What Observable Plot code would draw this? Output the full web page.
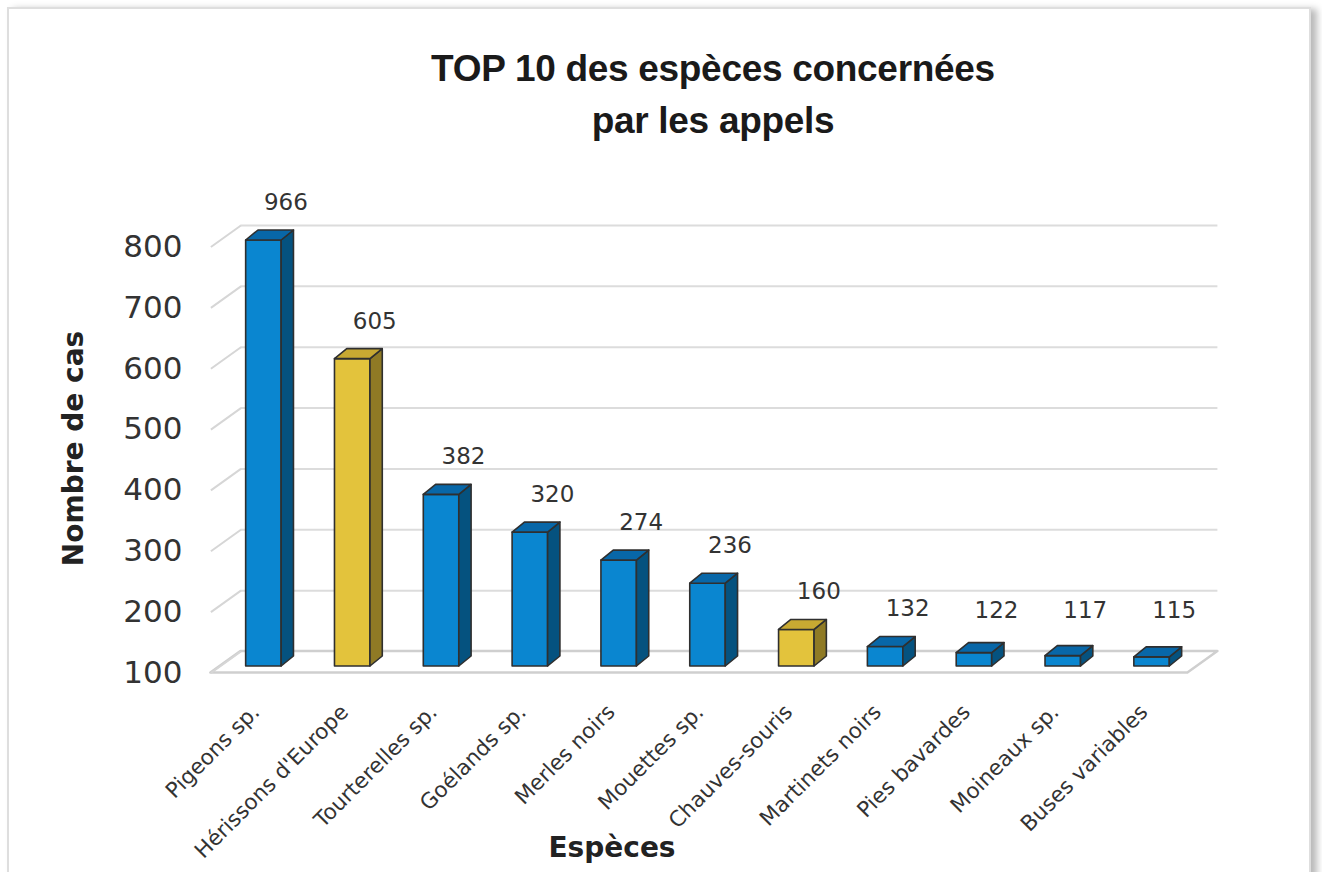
<!DOCTYPE html>
<html><head><meta charset="utf-8">
<script src="https://cdn.jsdelivr.net/npm/d3@7"></script>
<script src="https://cdn.jsdelivr.net/npm/@observablehq/plot@0.6"></script>
<style>
html,body{margin:0;padding:0;background:#fff;}
#page{position:relative;width:1322px;height:872px;overflow:hidden;background:#fff;}
#card{position:absolute;left:7px;top:7px;width:1300px;height:920px;border:2px solid #dedede;box-shadow:6px 2px 7px rgba(0,0,0,0.28);background:#fff;}
#title{position:absolute;left:100px;top:43px;width:1226px;text-align:center;font-family:"Liberation Sans",Arial,sans-serif;font-weight:bold;font-size:37px;line-height:52px;color:#1a1a1a;letter-spacing:-0.3px;}
#chart{position:absolute;left:0;top:150px;}
</style></head>
<body>
<div id="page">
  <div id="card"></div>
  <div id="title">TOP 10 des espèces concernées<br>par les appels</div>
  <div id="chart"></div>
</div>
<script>
const species = ["Pigeons sp.", "Hérissons d'Europe", "Tourterelles sp.", "Goélands sp.", "Merles noirs", "Mouettes sp.", "Chauves-souris", "Martinets noirs", "Pies bavardes", "Moineaux sp.", "Buses variables"];
const cases = [966, 605, 382, 320, 274, 236, 160, 132, 122, 117, 115];
const groups = ["Oiseaux", "Mammifères", "Oiseaux", "Oiseaux", "Oiseaux", "Oiseaux", "Mammifères", "Oiseaux", "Oiseaux", "Oiseaux", "Oiseaux"];
const yTicks = [100, 200, 300, 400, 500, 600, 700, 800];

const palette = {
  "Oiseaux":    {front: "#0a86d0", top: "#0867a8", side: "#05527f"},
  "Mammifères": {front: "#e3c33c", top: "#c8a932", side: "#8f7a25"}
};

const W = 1322, H = 722, ML = 219, MR = 126, MT = 90, MB = 206;
const yMin = 100, yMax = 800;
const uy = (yMax - yMin) / (H - MT - MB);      // data units per px (vertical)
const ux = species.length / (W - ML - MR);     // data units per px (horizontal)
const x0 = -0.5, x1 = species.length - 0.5;

const hw = 17.75 * ux, bdx = 12.3 * ux, bdy = 10 * uy;     // bar half-width and depth
const fx = -8.6 * ux, fy = -6.5 * uy;                       // front plane offset
const bx = 21.4 * ux, by = 15 * uy;                         // back wall offset

const data = species.map((name, i) => ({
  i, name, v: cases[i], g: groups[i], top: Math.min(cases[i], yMax)
}));
const sides = data.flatMap(d => [
  {k: d.i, g: d.g, x: d.i + hw, y1: yMin, y2: d.top},
  {k: d.i, g: d.g, x: d.i + hw + bdx, y1: yMin + bdy, y2: d.top + bdy}
]);
const tops = data.flatMap(d => [
  {k: d.i, g: d.g, y: d.top, x1: d.i - hw, x2: d.i + hw},
  {k: d.i, g: d.g, y: d.top + bdy, x1: d.i - hw + bdx, x2: d.i + hw + bdx}
]);
const floor = [
  {y: yMin + fy, x1: x0 + fx, x2: x1 + fx},
  {y: yMin + by, x1: x0 + bx, x2: x1 + bx}
];

const edge = "#2f2f2f";
const chart = Plot.plot({
  width: W, height: H,
  marginLeft: ML, marginRight: MR, marginTop: MT, marginBottom: MB,
  style: {fontFamily: "DejaVu Sans", background: "transparent", overflow: "visible"},
  x: {domain: [x0, x1], axis: null},
  y: {domain: [yMin, yMax], axis: null},
  marks: [
    Plot.areaX(floor, {y: "y", x1: "x1", x2: "x2", fill: "#fff", stroke: "#cfcfcf", strokeWidth: 2.5}),
    Plot.ruleY(yTicks.slice(1), {y: d => d + by, x1: x0 + bx, x2: x1 + bx, stroke: "#dcdcdc", strokeWidth: 2}),
    Plot.link(yTicks, {x1: x0 + fx, y1: d => d + fy, x2: x0 + bx, y2: d => d + by, stroke: "#d6d6d6", strokeWidth: 2}),
    Plot.rect(data, {x1: d => d.i - hw, x2: d => d.i + hw, y1: yMin, y2: "top",
      fill: d => palette[d.g].front, stroke: edge, strokeWidth: 1.6, strokeLinejoin: "round"}),
    Plot.areaY(sides, {x: "x", y1: "y1", y2: "y2", z: "k",
      fill: d => palette[d.g].side, stroke: edge, strokeWidth: 1.6, strokeLinejoin: "round"}),
    Plot.areaX(tops, {y: "y", x1: "x1", x2: "x2", z: "k",
      fill: d => palette[d.g].top, stroke: edge, strokeWidth: 1.6, strokeLinejoin: "round"}),
    Plot.text(data, {x: "i", y: d => Math.max(d.top, 130), dx: 22, dy: -38,
      text: d => String(d.v), fontSize: 23, fill: "#333"}),
    Plot.text(yTicks, {y: d => d + fy, text: d => String(d), frameAnchor: "left", dx: -37,
      textAnchor: "end", fontSize: 31, fill: "#333", letterSpacing: 3.5}),
    Plot.text(data, {x: "i", y: d => yMin, dx: -8, dy: 42, rotate: -45, textAnchor: "end",
      text: "name", fontSize: 21.5, fill: "#333"}),
    Plot.text(["Nombre de cas"], {frameAnchor: "left", textAnchor: "middle", lineAnchor: "middle",
      dx: -145, dy: -5, rotate: -90, fontSize: 28, fontWeight: "bold", fill: "#222"}),
    Plot.text(["Espèces"], {frameAnchor: "bottom", textAnchor: "middle", lineAnchor: "middle",
      dx: -96, dy: 182, fontSize: 28, fontWeight: "bold", fill: "#222"})
  ]
});
document.getElementById("chart").appendChild(chart);
</script>
</body></html>
